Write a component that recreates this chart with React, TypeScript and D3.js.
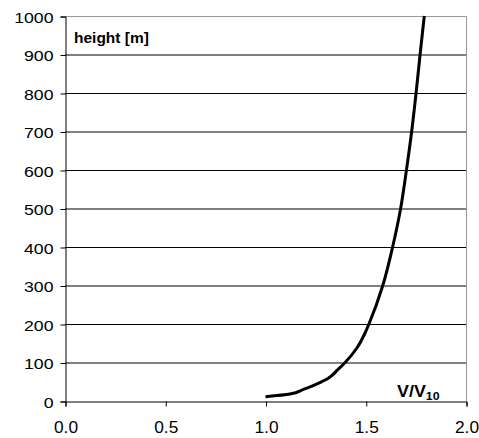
import React, { useRef, useEffect } from "react";
import * as d3 from "d3";

// wind speed ratio V/V10 against height
const speedRatio = [1.0, 1.122, 1.189, 1.255, 1.313, 1.358, 1.397, 1.455, 1.496, 1.516, 1.585, 1.634, 1.674, 1.703, 1.729, 1.751, 1.771, 1.792];
const heights = [11, 18, 30, 44, 59, 80, 100, 137, 176, 200, 300, 400, 500, 600, 700, 800, 900, 1000];

const xTicks = [0, 0.5, 1.0, 1.5, 2.0];
const yTicks = [0, 100, 200, 300, 400, 500, 600, 700, 800, 900, 1000];

function App() {
  const chartRef = useRef<SVGSVGElement | null>(null);

  useEffect(() => {
    const svg = d3.select(chartRef.current);
    svg.selectAll("*").remove();

    const left = 65, right = 466, top = 16, bottom = 401;
    const x = d3.scaleLinear().domain([0, 2]).range([left, right]);
    const y = d3.scaleLinear().domain([0, 1000]).range([bottom, top]);
    const font = "'Liberation Sans', Arial, sans-serif";

    // horizontal gridlines
    svg.append("g")
      .selectAll("line")
      .data(yTicks.slice(1, -1))
      .enter()
      .append("line")
      .attr("x1", left).attr("x2", right)
      .attr("y1", (d) => y(d) + 0.5).attr("y2", (d) => y(d) + 0.5)
      .attr("stroke", "#000").attr("stroke-width", 1);

    // grey frame on top and right
    svg.append("path")
      .attr("d", `M${left},${top + 0.5}H${right + 0.5}V${bottom}`)
      .attr("fill", "none").attr("stroke", "#999").attr("stroke-width", 1);

    // y axis, labels are a bit wider than plain Arial in the original
    const yAxis = svg.append("g").attr("transform", `translate(${left + 0.5},0.5)`)
      .call(d3.axisLeft(y).tickValues(yTicks).tickSize(5).tickFormat(d3.format("d")));
    yAxis.select(".domain").attr("stroke", "#000");
    yAxis.selectAll(".tick text")
      .attr("x", null).attr("dy", null)
      .attr("transform", "translate(-12,5.5) scale(1.18,1)")
      .style("font-family", font).style("font-size", "15px").attr("fill", "#000");

    // x axis
    const xAxis = svg.append("g").attr("transform", `translate(0.5,${bottom + 0.5})`)
      .call(d3.axisBottom(x).tickValues(xTicks).tickSize(5).tickFormat(d3.format(".1f")));
    xAxis.select(".domain").attr("stroke", "#000");
    xAxis.selectAll(".tick text")
      .attr("y", null).attr("dy", null)
      .attr("transform", "translate(0,31.5) scale(1.08,1)")
      .style("font-family", font).style("font-size", "16px").attr("fill", "#000");

    // the profile curve
    const line = d3.line<number>()
      .x((d, i) => x(speedRatio[i]))
      .y((d) => y(d))
      .curve(d3.curveMonotoneY);
    svg.append("path")
      .datum(heights)
      .attr("d", line)
      .attr("fill", "none")
      .attr("stroke", "#000")
      .attr("stroke-width", 3)
      .attr("stroke-linejoin", "round");

    // axis titles inside the plot
    svg.append("text")
      .attr("x", 74).attr("y", 43)
      .style("font-family", font).style("font-size", "15.5px").style("font-weight", "bold")
      .text("height [m]");

    const vt = svg.append("text")
      .attr("transform", "translate(397,397) scale(1.12,1)")
      .style("font-family", font).style("font-size", "16px").style("font-weight", "bold");
    vt.append("tspan").text("V/V");
    vt.append("tspan").attr("dy", 3).style("font-size", "11px").text("10");
  }, []);

  return (
    <svg ref={chartRef} width={479} height={438} style={{ position: "absolute", left: 0, top: 0, background: "#fff" }}></svg>
  );
}

export default App;
